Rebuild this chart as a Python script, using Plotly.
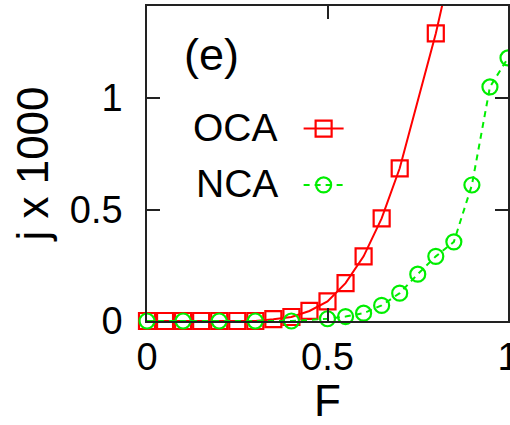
import plotly.graph_objects as go

# Current density (j x 1000) versus field F for the two approximations
F_oca = [0.0, 0.05, 0.1, 0.15, 0.2, 0.25, 0.3, 0.35, 0.4, 0.45, 0.5, 0.55, 0.6, 0.65, 0.7, 0.8, 0.9]
j_oca = [0.0, 0.0, 0.0, 0.0, 0.0, 0.0, 0.0, 0.008, 0.018, 0.045, 0.088, 0.17, 0.29, 0.46, 0.685, 1.29, 2.0]

F_nca = [0.0, 0.1, 0.2, 0.3, 0.4, 0.5, 0.55, 0.6, 0.65, 0.7, 0.75, 0.8, 0.85, 0.9, 0.95, 1.0]
j_nca = [0.0, 0.0, 0.0, 0.0, 0.0, 0.01, 0.02, 0.035, 0.07, 0.125, 0.21, 0.29, 0.355, 0.61, 1.05, 1.18]

x_ticks = [0, 0.5, 1]
x_tick_text = ["0", "0.5", "1"]
y_ticks = [0, 0.5, 1]
y_tick_text = ["0", "0.5", "1"]

RED = "#ff0000"
GREEN = "#00ee00"
FONT = "Liberation Sans, Arial, sans-serif"

fig = go.Figure()
fig.add_trace(go.Scatter(
    x=F_oca, y=j_oca, mode="lines+markers", name="",
    line=dict(color=RED, width=2),
    marker=dict(symbol="square-open", size=16, color=RED, line=dict(width=2.2, color=RED)),
    cliponaxis=False,
))
fig.add_trace(go.Scatter(
    x=F_nca, y=j_nca, mode="lines+markers", name="",
    line=dict(color=GREEN, width=2, dash="6px,5px"),
    marker=dict(symbol="circle-open", size=15, color=GREEN, line=dict(width=2.2, color=GREEN)),
    cliponaxis=False,
))

axis_common = dict(
    showline=True, linecolor="#222", linewidth=1.5, mirror="ticks",
    ticks="inside", ticklen=13, tickwidth=1.5, tickcolor="#222",
    showgrid=False, zeroline=False, automargin=False,
    ticklabeloverflow="allow",
    tickfont=dict(family=FONT, size=38, color="black"),
    title_font=dict(family=FONT, size=44, color="black"),
)

fig.update_xaxes(range=[0, 1], tickvals=x_ticks, ticktext=x_tick_text,
                 ticklabelstandoff=2, title_text="F", title_standoff=24, **axis_common)
fig.update_yaxes(range=[0, 1.413], tickvals=y_ticks, ticktext=y_tick_text,
                 ticklabelstandoff=15, title_text="j x 1000", title_standoff=7, **axis_common)

fig.add_annotation(text="(e)", xref="paper", yref="paper", x=0.18, y=0.845,
                   xanchor="center", yanchor="middle", showarrow=False,
                   font=dict(family=FONT, size=45, color="black"))
fig.add_annotation(text="OCA", xref="paper", yref="paper", x=0.368, y=0.613,
                   xanchor="right", yanchor="middle", showarrow=False,
                   font=dict(family=FONT, size=39, color="black"))
fig.add_annotation(text="NCA", xref="paper", yref="paper", x=0.368, y=0.438,
                   xanchor="right", yanchor="middle", showarrow=False,
                   font=dict(family=FONT, size=39, color="black"))

fig.update_layout(
    width=510, height=425,
    margin=dict(l=147, r=2, t=6, b=104),
    paper_bgcolor="white", plot_bgcolor="white",
    showlegend=True,
    legend=dict(x=0.42, y=0.716, xanchor="left", yanchor="top",
                bgcolor="rgba(0,0,0,0)", font=dict(family=FONT, size=41),
                itemwidth=40, tracegroupgap=0),
)

fig.write_html("out.html")
